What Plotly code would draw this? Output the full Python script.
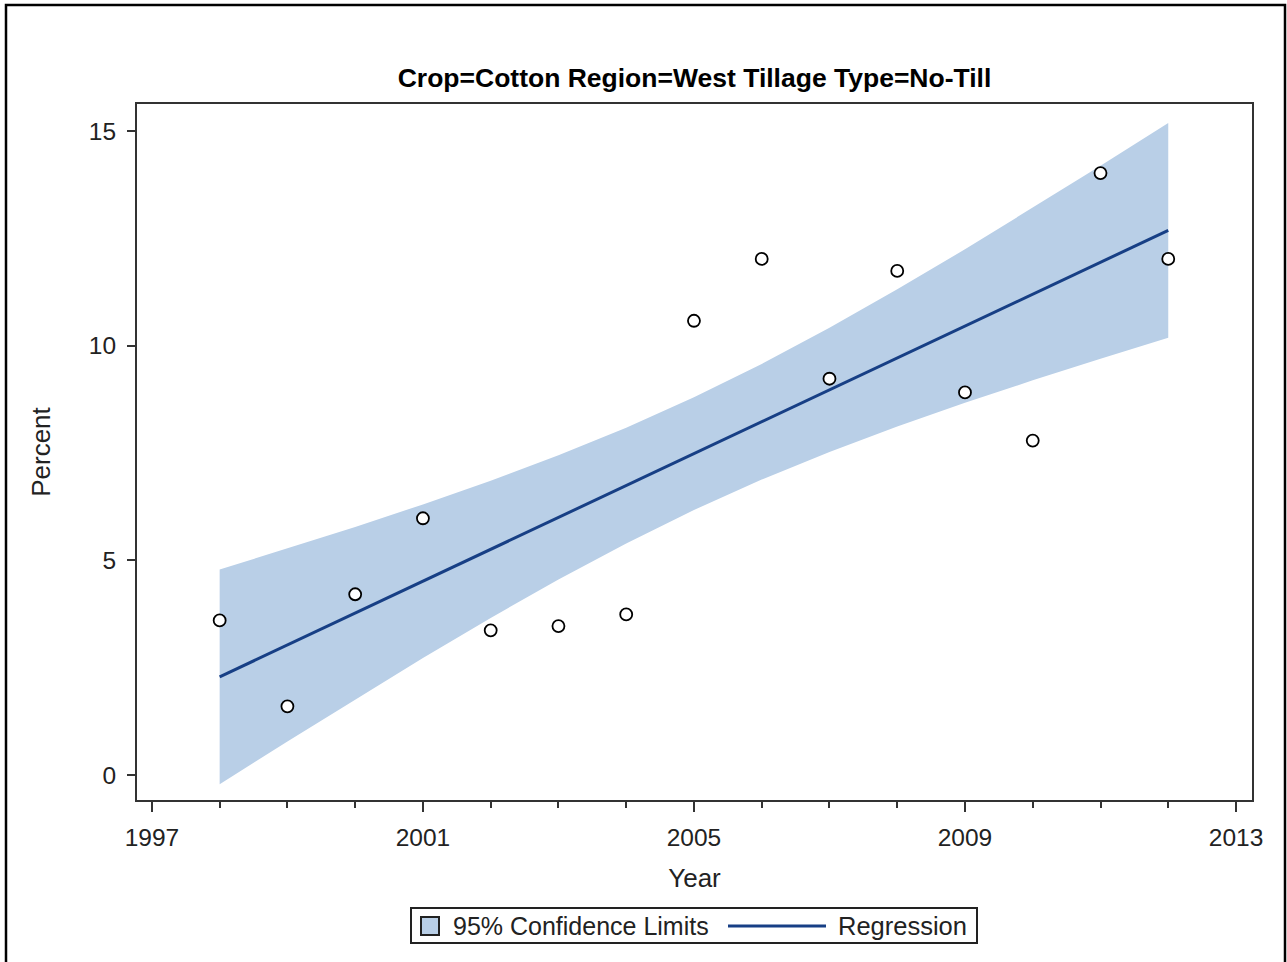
import numpy as np
import plotly.graph_objects as go

# Observed no-till share for West cotton, by year
years = [1998, 1999, 2000, 2001, 2002, 2003, 2004, 2005,
         2006, 2007, 2008, 2009, 2010, 2011, 2012]
percent = [3.60, 1.60, 4.21, 5.98, 3.37, 3.47, 3.74, 10.58,
           12.02, 9.23, 11.74, 8.91, 7.79, 14.02, 12.02]

x_ticks = [1997, 2001, 2005, 2009, 2013]
y_ticks = [0, 5, 10, 15]

title_text = "Crop=Cotton Region=West Tillage Type=No-Till"
band_name = "95% Confidence Limits"
fit_name = "Regression"

# Least-squares fit with 95% confidence limits for the mean
x = np.array(years, dtype=float)
y = np.array(percent, dtype=float)
n = len(x)
xm = x.mean()
sxx = ((x - xm) ** 2).sum()
slope = ((x - xm) * (y - y.mean())).sum() / sxx
intercept = y.mean() - slope * xm
fit = intercept + slope * x
s = np.sqrt(((y - fit) ** 2).sum() / (n - 2))
t_crit = 2.160369  # t(0.975, df=13)
half = t_crit * s * np.sqrt(1.0 / n + (x - xm) ** 2 / sxx)
upper = fit + half
lower = fit - half

band_color = "#B9CFE7"
fit_color = "#173F85"
frame_color = "#333333"
text_color = "#222222"
font_family = "Liberation Sans, Arial, sans-serif"

W, H = 1287, 962
L, R, T, B = 137, 1252, 104, 800


def px(xp):
    return (xp - L) / (R - L)


def py(yp):
    return (B - yp) / (B - T)


fig = go.Figure()
fig.add_trace(go.Scatter(
    x=list(x) + list(x[::-1]), y=list(upper) + list(lower[::-1]),
    fill="toself", fillcolor=band_color, line=dict(width=0),
    mode="lines", name=band_name, showlegend=False, hoverinfo="skip"))
fig.add_trace(go.Scatter(
    x=x, y=fit, mode="lines", line=dict(color=fit_color, width=3),
    name=fit_name, showlegend=False))
fig.add_trace(go.Scatter(
    x=years, y=percent, mode="markers", name="Percent",
    marker=dict(symbol="circle", size=12, color="white",
                line=dict(color="black", width=1.8)),
    showlegend=False))

axis_common = dict(
    showline=True, linecolor=frame_color, linewidth=2, mirror=True,
    showgrid=False, zeroline=False, ticks="outside", tickcolor=frame_color,
    tickwidth=2, tickfont=dict(family=font_family, size=24.5, color=text_color),
)

fig.update_xaxes(
    range=[1996.78, 2013.236], tickvals=x_ticks, ticklen=10,
    ticklabelstandoff=5,
    minor=dict(dtick=1, tick0=1997, ticks="outside", ticklen=6,
               tickcolor=frame_color, tickwidth=2),
    title=dict(text="Year", standoff=18,
               font=dict(family=font_family, size=26, color=text_color)),
    **axis_common)
fig.update_yaxes(
    range=[-0.582, 15.629], tickvals=y_ticks, ticklen=8,
    ticklabelstandoff=6,
    title=dict(text="Percent", standoff=31,
               font=dict(family=font_family, size=26, color=text_color)),
    **axis_common)

# Legend frame and entries
lg_y = py(926)
shapes = [
    dict(type="rect", xref="paper", yref="paper",
         x0=px(6), x1=px(1285), y0=py(975), y1=py(5),
         line=dict(color="black", width=2.5), fillcolor="rgba(0,0,0,0)"),
    dict(type="rect", xref="paper", yref="paper",
         x0=px(411), x1=px(977), y0=py(943), y1=py(908),
         line=dict(color="#222222", width=2), fillcolor="white"),
    dict(type="rect", xref="paper", yref="paper",
         x0=px(421), x1=px(439), y0=py(935), y1=py(917),
         line=dict(color="#222222", width=2), fillcolor=band_color),
    dict(type="line", xref="paper", yref="paper",
         x0=px(728), x1=px(826), y0=lg_y, y1=lg_y,
         line=dict(color=fit_color, width=3)),
]
annotations = [
    dict(text=band_name, xref="paper", yref="paper", x=px(451), y=lg_y,
         xanchor="left", yanchor="middle", showarrow=False,
         font=dict(family=font_family, size=25, color=text_color)),
    dict(text=fit_name, xref="paper", yref="paper", x=px(836), y=lg_y,
         xanchor="left", yanchor="middle", showarrow=False,
         font=dict(family=font_family, size=25.5, color=text_color)),
]

fig.update_layout(
    width=W, height=H,
    margin=dict(l=L, r=W - R, t=T, b=H - B, autoexpand=False),
    paper_bgcolor="white", plot_bgcolor="white",
    title=dict(text="<b>" + title_text + "</b>", x=0.5, xref="paper",
               y=1 - 78 / H, yref="container", yanchor="middle",
               xanchor="center",
               font=dict(family=font_family, size=26.5, color="black")),
    shapes=shapes, annotations=annotations, showlegend=False,
)

fig.write_html("out.html")
